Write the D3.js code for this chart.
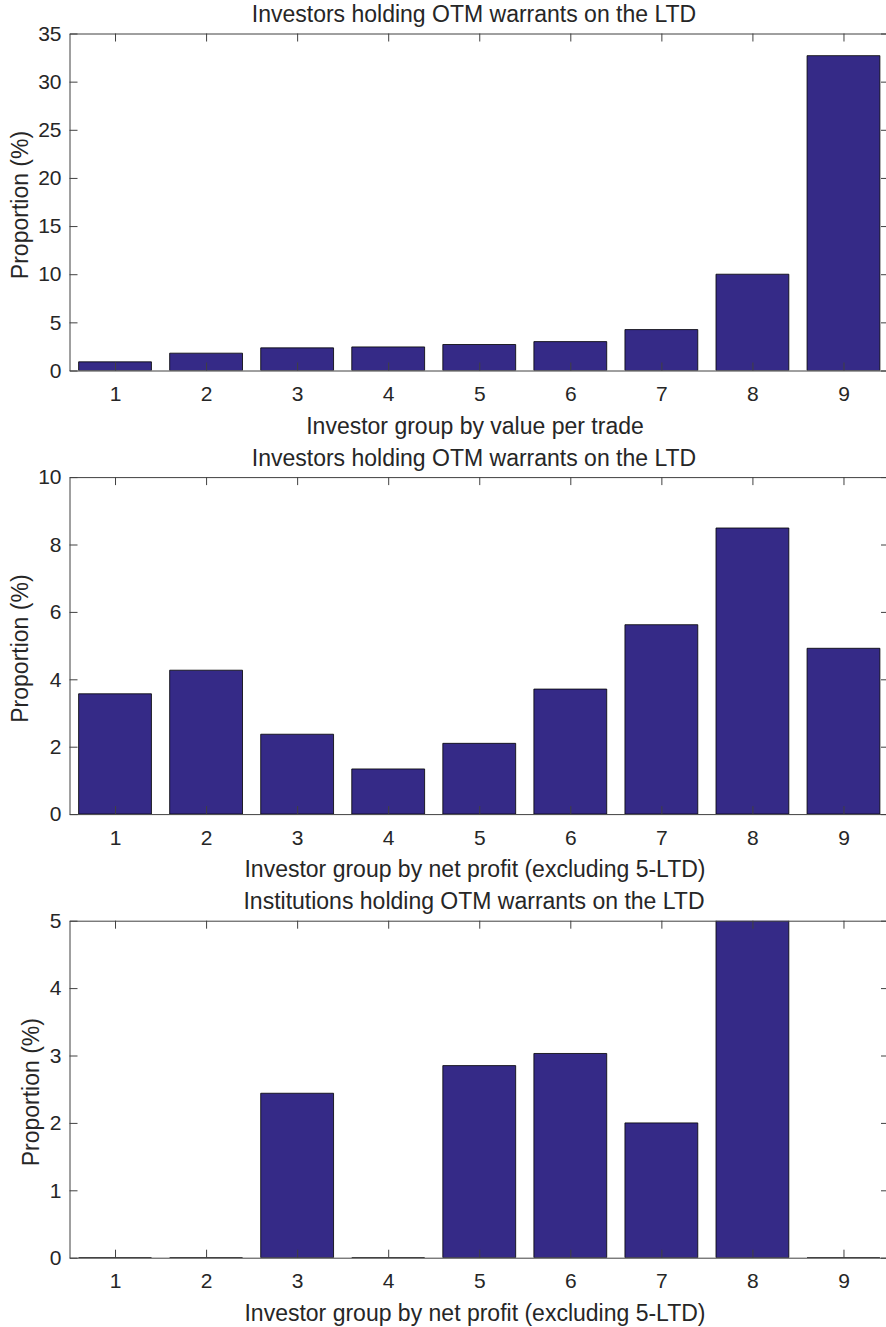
<!DOCTYPE html>
<html>
<head>
<meta charset="utf-8">
<script src="https://cdn.jsdelivr.net/npm/d3@7"></script>
<style>
  body { margin: 0; background: #fff; }
  svg text { font-family: "Liberation Sans", Arial, Helvetica, sans-serif; fill: #262626; }
</style>
</head>
<body>
<div id="chart"></div>
<script>
// data
var groups = [1, 2, 3, 4, 5, 6, 7, 8, 9];
var byValuePerTrade = [0.9, 1.8, 2.35, 2.45, 2.7, 3.0, 4.25, 10.0, 32.7];
var byNetProfit = [3.57, 4.27, 2.37, 1.34, 2.1, 3.71, 5.62, 8.49, 4.92];
var institutionsNetProfit = [0, 0, 2.44, 0, 2.85, 3.03, 2.0, 5.3, 0];

var titles = [
    "Investors holding OTM warrants on the LTD",
    "Investors holding OTM warrants on the LTD",
    "Institutions holding OTM warrants on the LTD"
];
var xLabels = [
    "Investor group by value per trade",
    "Investor group by net profit (excluding 5-LTD)",
    "Investor group by net profit (excluding 5-LTD)"
];
var yMax = [35, 10, 5];
var yTicks = [
    [0, 5, 10, 15, 20, 25, 30, 35],
    [0, 2, 4, 6, 8, 10],
    [0, 1, 2, 3, 4, 5]
];
var series = [byValuePerTrade, byNetProfit, institutionsNetProfit];

var width = 886, height = 1327;
var left = 69.5, right = 889, plotH = 337, firstTop = 33.5, step = 443.6;
var barColor = "#352a87", axisColor = "#404040";
var tickFont = "21px", labelFont = "23px";
var textCenter = 474;

var svg = d3.select("#chart").append("svg")
    .attr("width", width)
    .attr("height", height);

var x = d3.scaleLinear().domain([0.5, 9.5]).range([left, right]);
var barW = 0.8;

series.forEach(function (vals, i) {
    var top = firstTop + i * step, bottom = top + plotH;
    var y = d3.scaleLinear().domain([0, yMax[i]]).range([bottom, top]);
    var g = svg.append("g");

    g.append("clipPath").attr("id", "clip" + i)
        .append("rect")
        .attr("x", left).attr("y", top)
        .attr("width", right - left).attr("height", plotH);

    // bars as paths so zero values still show an edge line
    g.append("g").attr("clip-path", "url(#clip" + i + ")")
        .selectAll("path")
        .data(vals)
        .enter()
        .append("path")
        .attr("d", function (d, j) {
            var x0 = x(groups[j] - barW / 2), x1 = x(groups[j] + barW / 2);
            return "M" + x0 + "," + y(0) + "H" + x1 + "V" + y(d) + "H" + x0 + "Z";
        })
        .attr("fill", barColor)
        .attr("stroke", "#000")
        .attr("stroke-width", 0.8);

    // axes on all four sides, ticks pointing in
    var tickLen = 8;
    var axB = d3.axisBottom(x).tickValues(groups).tickSize(-tickLen).tickPadding(15.5).tickFormat(d3.format("d"));
    var axT = d3.axisTop(x).tickValues(groups).tickSize(-tickLen).tickFormat("");
    var axL = d3.axisLeft(y).tickValues(yTicks[i]).tickSize(-tickLen).tickPadding(8).tickFormat(d3.format("d"));
    var axR = d3.axisRight(y).tickValues(yTicks[i]).tickSize(-tickLen).tickFormat("");

    var leftAxis;
    [[axB, "translate(0," + bottom + ")"], [axT, "translate(0," + top + ")"],
     [axL, "translate(" + left + ",0)"], [axR, "translate(" + right + ",0)"]].forEach(function (a, k) {
        var ax = g.append("g").attr("transform", a[1]).call(a[0].tickSizeOuter(0));
        ax.select(".domain").attr("stroke", axisColor);
        ax.selectAll(".tick line").attr("stroke", axisColor);
        ax.selectAll(".tick text").style("font-size", tickFont).attr("fill", "#262626");
        if (k === 2) leftAxis = ax;
    });

    // widest y tick label decides where the y label goes
    var maxW = 0;
    leftAxis.selectAll(".tick text").each(function () {
        maxW = Math.max(maxW, this.getComputedTextLength());
    });

    g.append("text")
        .attr("x", textCenter)
        .attr("y", top - 11.5)
        .attr("text-anchor", "middle")
        .style("font-size", labelFont)
        .text(titles[i]);

    g.append("text")
        .attr("x", textCenter + 1)
        .attr("y", bottom + 63)
        .attr("text-anchor", "middle")
        .style("font-size", labelFont)
        .text(xLabels[i]);

    g.append("text")
        .attr("transform", "translate(" + (left - 8 - maxW - 10.5) + "," + (top + plotH / 2 + 3) + ") rotate(-90)")
        .attr("text-anchor", "middle")
        .style("font-size", labelFont)
        .text("Proportion (%)");
});
</script>
</body>
</html>
